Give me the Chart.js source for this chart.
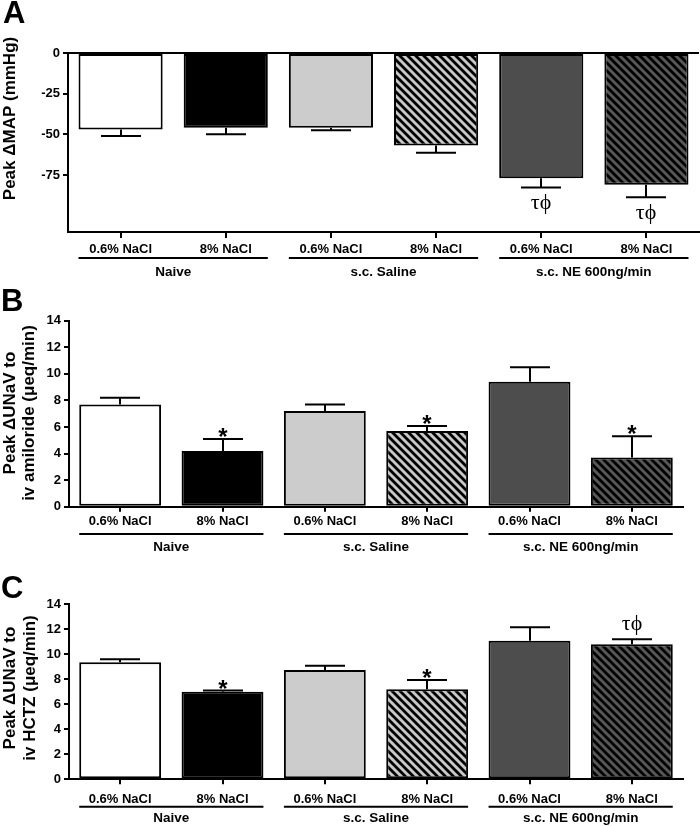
<!DOCTYPE html>
<html><head><meta charset="utf-8">
<script src="https://cdn.jsdelivr.net/npm/chart.js@4.4.1/dist/chart.umd.min.js"></script>
<style>
html,body{margin:0;padding:0;background:#fff;}
#wrap{position:relative;width:700px;height:826px;overflow:hidden;}
canvas{position:absolute;left:0;}
</style></head><body>
<div id="wrap">
<canvas id="cA" width="700" height="280" style="top:0px"></canvas>
<canvas id="cB" width="700" height="275" style="top:280px"></canvas>
<canvas id="cC" width="700" height="271" style="top:555px"></canvas>
</div>
<script>
// ---------- data ----------
const categories = ['0.6% NaCl', '8% NaCl', '0.6% NaCl', '8% NaCl', '0.6% NaCl', '8% NaCl'];
const groups = ['Naive', 's.c. Saline', 's.c. NE 600ng/min'];

const mapMean = [-47, -46, -46, -56.8, -77, -81];
const mapSem = [4, 4, 1.4, 4.5, 5.7, 7.7];
const mapMarks = ['', '', '', '', 'τϕ', 'τϕ'];
const mapTicks = [0, -25, -50, -75];

const amilMean = [7.7, 4.2, 7.2, 5.7, 9.4, 3.7];
const amilSem = [0.5, 0.9, 0.5, 0.37, 1.1, 1.6];
const amilMarks = ['', '*', '', '*', '', '*'];

const hctzMean = [9.36, 7.0, 8.74, 7.2, 11.09, 10.8];
const hctzSem = [0.24, 0.1, 0.35, 0.74, 1.07, 0.4];
const hctzMarks = ['', '*', '', '*', '', 'τϕ'];

const unavTicks = [0, 2, 4, 6, 8, 10, 12, 14];

// ---------- styles ----------
function hatch(bg, fg) {
  const c = document.createElement('canvas');
  c.width = 8; c.height = 8;
  const g = c.getContext('2d');
  g.fillStyle = bg; g.fillRect(0, 0, 8, 8);
  g.strokeStyle = fg; g.lineWidth = 2.8;
  g.beginPath();
  g.moveTo(-2, -2); g.lineTo(10, 10);
  g.moveTo(-10, -2); g.lineTo(2, 10);
  g.moveTo(6, -2); g.lineTo(18, 10);
  g.stroke();
  return g.createPattern(c, 'repeat');
}
const fills = ['#ffffff', '#000000', '#cccccc', hatch('#c8c8c8', '#000000'), '#4d4d4d', hatch('#575757', '#000000')];
const SANS = 'Liberation Sans, Arial, sans-serif';
const SERIF = 'Liberation Serif, DejaVu Serif, Times New Roman, serif';

function panelPlugin(p) {
  return {
    id: 'panelDeco',
    afterDraw(chart) {
      const ctx = chart.ctx, ys = chart.scales.y, ca = chart.chartArea;
      const meta = chart.getDatasetMeta(0);
      ctx.save();
      ctx.strokeStyle = '#000'; ctx.fillStyle = '#000'; ctx.lineWidth = 2;
      if (p.zeroLine) {
        const y0 = Math.round(ys.getPixelForValue(0));
        ctx.beginPath(); ctx.moveTo(ca.left - 1, y0); ctx.lineTo(ca.right, y0); ctx.stroke();
      }
      // error bars + marks
      meta.data.forEach((bar, i) => {
        const m = p.mean[i], e = p.sem[i];
        const neg = m < 0;
        const end = neg ? m - e : m + e;
        const yb = ys.getPixelForValue(m), ye = ys.getPixelForValue(end);
        const bx = Math.round(bar.x);
        ctx.beginPath();
        ctx.moveTo(bx, yb); ctx.lineTo(bx, ye);
        ctx.moveTo(bx - 20, ye); ctx.lineTo(bx + 20, ye);
        ctx.stroke();
        const mk = p.marks[i];
        if (mk === '*') {
          ctx.font = 'bold 24px ' + SANS;
          ctx.textAlign = 'center'; ctx.textBaseline = 'alphabetic';
          ctx.fillText(mk, bx, ye + 6);
        } else if (mk) {
          ctx.font = '22px ' + SERIF;
          ctx.textAlign = 'center'; ctx.textBaseline = 'middle';
          ctx.fillText(mk, bx, neg ? ye + 16 : ye - 15);
        }
      });
      // group underlines and labels
      for (let g = 0; g < groups.length; g++) {
        const b1 = meta.data[2 * g], b2 = meta.data[2 * g + 1];
        const x1 = b1.x - b1.width / 2, x2 = b2.x + b2.width / 2;
        ctx.beginPath(); ctx.moveTo(x1, p.lineY); ctx.lineTo(x2, p.lineY); ctx.stroke();
        ctx.font = 'bold 13.5px ' + SANS;
        ctx.textAlign = 'center'; ctx.textBaseline = 'middle';
        ctx.fillText(groups[g], (x1 + x2) / 2, p.groupY);
      }
      // y titles
      ctx.font = 'bold 17px ' + SANS;
      ctx.textAlign = 'center'; ctx.textBaseline = 'alphabetic';
      p.title.forEach((t, k) => {
        ctx.save();
        ctx.translate(p.titleX[k], p.titleY);
        ctx.rotate(-Math.PI / 2);
        ctx.fillText(t, 0, 0);
        ctx.restore();
      });
      // panel letter
      ctx.font = 'bold 31px ' + SANS;
      ctx.textAlign = 'left'; ctx.textBaseline = 'alphabetic';
      ctx.fillText(p.letter, p.letterX, p.letterY);
      ctx.restore();
    }
  };
}

function makeChart(id, p) {
  const tickFont = { family: SANS, size: 13, weight: 'bold' };
  return new Chart(document.getElementById(id), {
    type: 'bar',
    data: {
      labels: categories,
      datasets: [{
        data: p.mean,
        backgroundColor: fills,
        borderColor: '#000',
        borderWidth: 2,
        borderSkipped: false,
        barPercentage: 1,
        categoryPercentage: 0.8
      }]
    },
    options: {
      responsive: false,
      animation: false,
      devicePixelRatio: 1,
      layout: { padding: { left: 0, right: p.right, top: p.top, bottom: 0 } },
      plugins: { legend: { display: false }, tooltip: { enabled: false } },
      scales: {
        x: {
          type: 'category',
          offset: true,
          afterFit: s => { s.height = p.xH; },
          border: { display: true, color: '#000', width: 2 },
          grid: { display: true, offset: false, drawOnChartArea: false, drawTicks: true, tickLength: p.xTick, color: '#000', lineWidth: 2 },
          ticks: { color: '#000', font: tickFont, padding: p.xPad, maxRotation: 0, autoSkip: false }
        },
        y: {
          min: p.min, max: p.max,
          afterFit: s => { s.width = p.yW; },
          afterBuildTicks: s => { s.ticks = p.ticks.map(v => ({ value: v })); },
          border: { display: true, color: '#000', width: 2 },
          grid: { display: true, drawOnChartArea: false, drawTicks: true, tickLength: 5, color: '#000', lineWidth: 2 },
          ticks: { color: '#000', font: tickFont, padding: 3 }
        }
      }
    },
    plugins: [panelPlugin(p)]
  });
}

makeChart('cA', {
  mean: mapMean, sem: mapSem, marks: mapMarks, ticks: mapTicks,
  min: -110, max: 0, zeroLine: true,
  top: 53, right: 1, xH: 48, yW: 68, xTick: 6, xPad: 4,
  lineY: 258, groupY: 272,
  title: ['Peak ΔMAP (mmHg)'], titleX: [15], titleY: 118.5,
  letter: 'A', letterX: 3, letterY: 23
});
makeChart('cB', {
  mean: amilMean, sem: amilSem, marks: amilMarks, ticks: unavTicks,
  min: 0, max: 14, zeroLine: false,
  top: 40.7, right: 17, xH: 48.3, yW: 69, xTick: 5, xPad: 2,
  lineY: 254, groupY: 267,
  title: ['Peak ΔUNaV to', 'iv amiloride (μeq/min)'], titleX: [15, 34], titleY: 133,
  letter: 'B', letterX: 1, letterY: 31
});
makeChart('cC', {
  mean: hctzMean, sem: hctzSem, marks: hctzMarks, ticks: unavTicks,
  min: 0, max: 14, zeroLine: false,
  top: 49.3, right: 17, xH: 46.7, yW: 69, xTick: 5, xPad: 7,
  lineY: 251.7, groupY: 263,
  title: ['Peak ΔUNaV to', 'iv HCTZ (μeq/min)'], titleX: [15, 35], titleY: 133,
  letter: 'C', letterX: 1, letterY: 43
});
</script>
</body></html>
